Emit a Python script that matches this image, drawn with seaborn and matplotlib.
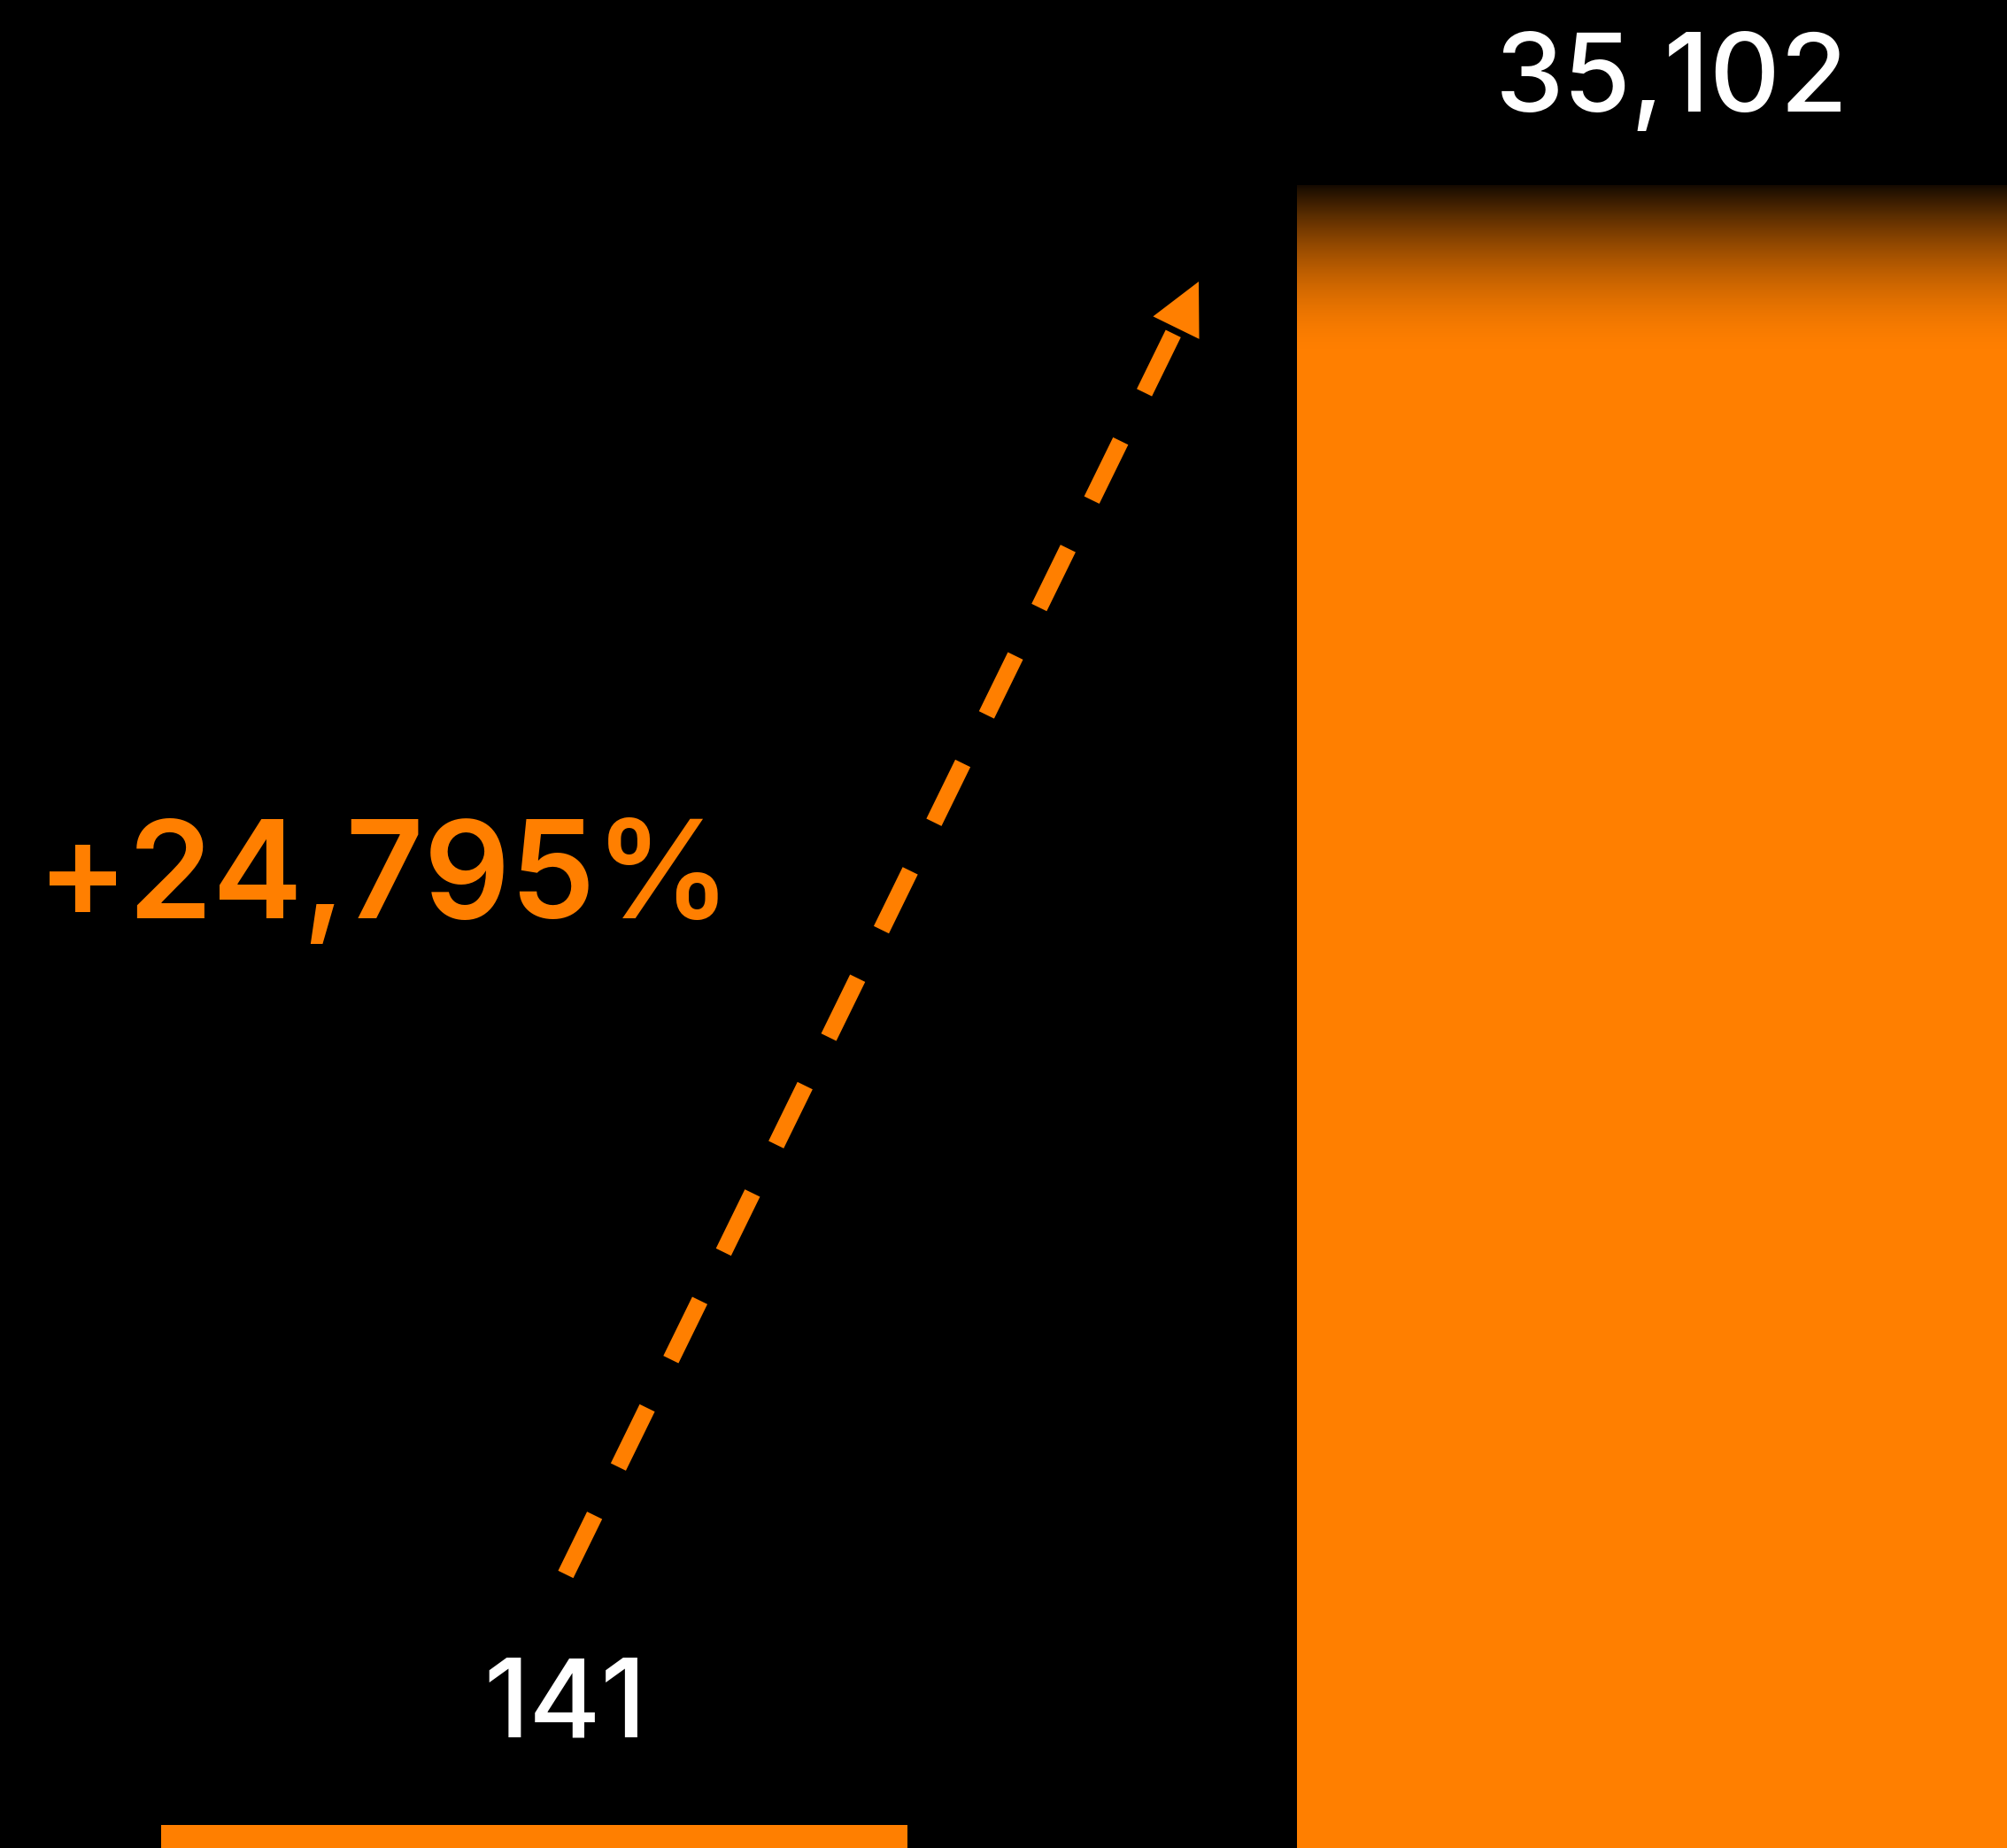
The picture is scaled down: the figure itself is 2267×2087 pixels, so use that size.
import numpy as np
import pandas as pd
import matplotlib
matplotlib.use("Agg")
import matplotlib.pyplot as plt
import seaborn as sns
from matplotlib.patches import Polygon

# --- data -------------------------------------------------------------
categories = ["Before", "After"]
values = [141, 35102]
growth_label = "+{:,.0f}%".format((values[1] / values[0] - 1) * 100)

ORANGE = "#FF7F00"
BLACK = "#000000"
WHITE = "#FFFFFF"

W, H, DPI = 2267, 2087, 100

sns.set_theme(style="white")
plt.rcParams["font.family"] = ["Inter", "DejaVu Sans"]

fig = plt.figure(figsize=(W / DPI, H / DPI), dpi=DPI, facecolor=BLACK)

# plot area: the tall bar runs off the top of the axes and fades out
axes_top_px = 209
axes_h_px = H - axes_top_px
small_bar_px = 26
ax = fig.add_axes([0, 0, 1, axes_h_px / H])
ax.set_facecolor(BLACK)

df = pd.DataFrame({"period": categories, "count": values})
sns.barplot(data=df, x="period", y="count", color=ORANGE, saturation=1,
            width=0.657, linewidth=0, edgecolor="none", ax=ax)

ymax = values[0] * axes_h_px / small_bar_px
ax.set_axis_off()

# fade the clipped top of the tall bar into the background
fade_px = 195
fade = fade_px / axes_h_px * ymax
t = np.linspace(0, 1, 256)[:, None]          # 0 at bottom, 1 at top
alpha = 0.92 * t ** 1.8
grad = np.zeros((256, 1, 4))
grad[..., 3] = alpha
bar = ax.patches[1]
x0, x1 = bar.get_x(), bar.get_x() + bar.get_width()
ax.imshow(grad, extent=[x0, x1, ymax - fade, ymax], origin="lower",
          aspect="auto", interpolation="bilinear", zorder=5)
ax.set_xlim(-0.4704, 1.2966)
ax.set_ylim(0, ymax)

# overlay in pixel coordinates for labels and the growth arrow
ov = fig.add_axes([0, 0, 1, 1], facecolor="none")
ov.set_xlim(0, W)
ov.set_ylim(H, 0)
ov.set_axis_off()

ov.text(1888, 126, f"{values[1]:,}", color=WHITE, fontsize=89,
        fontweight="medium", ha="center", va="baseline")
ov.text(638, 1962, f"{values[0]:,}", color=WHITE, fontsize=89,
        fontweight="medium", ha="center", va="baseline")
ov.text(42, 1037, growth_label, color=ORANGE, fontsize=110,
        fontweight="semibold", ha="left", va="baseline")

# dashed growth arrow
start = np.array([639.0, 1778.0])
tip = np.array([1354.0, 318.0])
d = tip - start
u = d / np.linalg.norm(d)
head_len, head_w = 58.0, 58.0
base = tip - u * head_len
ov.plot([start[0], base[0] + u[0] * 2], [start[1], base[1] + u[1] * 2],
        color=ORANGE, lw=13.7, dashes=(3.9, 3.2), solid_capstyle="butt",
        dash_capstyle="butt")
nrm = np.array([-u[1], u[0]])
head = Polygon([tip, base + nrm * head_w / 2, base - nrm * head_w / 2],
               closed=True, facecolor=ORANGE, edgecolor="none")
ov.add_patch(head)

fig.savefig("out.png", dpi=DPI, facecolor=BLACK)
